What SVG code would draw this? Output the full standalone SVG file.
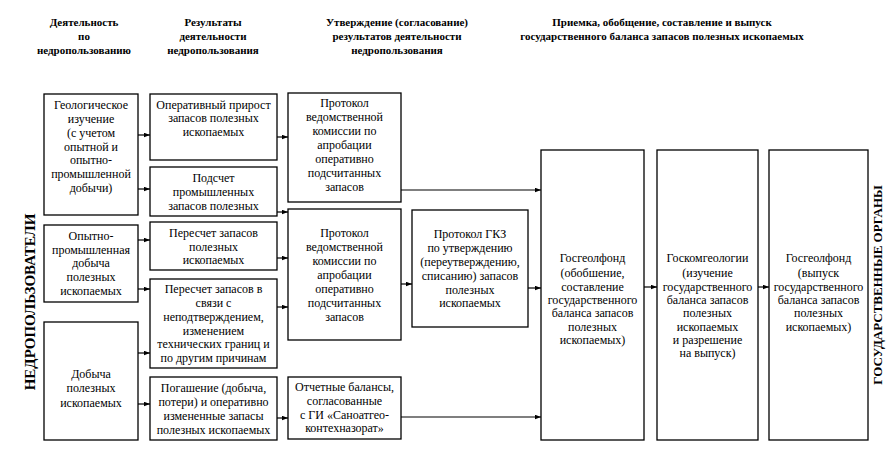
<svg xmlns="http://www.w3.org/2000/svg" width="888" height="449" viewBox="0 0 888 449">
<style>
text{font-family:"Liberation Serif","Times New Roman","DejaVu Serif",serif}
.b{fill:#fff;stroke:#000;stroke-width:1.3}
.t{font-size:12px;fill:#000;text-anchor:middle}
.h{font-size:11px;font-weight:bold;fill:#000;text-anchor:middle}
.v{font-weight:bold;fill:#000;text-anchor:middle}
.c line{stroke:#000;stroke-width:1.2;marker-end:url(#a)}
</style>
<defs>
<marker id="a" viewBox="0 0 8 6" refX="8" refY="3" markerWidth="6" markerHeight="5" markerUnits="userSpaceOnUse" orient="auto"><path d="M0,0L8,3L0,6z" fill="#000"/></marker>
</defs>
<rect width="888" height="449" fill="#fff"/>
<g id="headers">
<text class="h" x="84"><tspan x="84" y="26">Деятельность</tspan><tspan x="84" y="40">по</tspan><tspan x="84" y="54">недропользованию</tspan></text>
<text class="h" x="213"><tspan x="213" y="26">Результаты</tspan><tspan x="213" y="40">деятельности</tspan><tspan x="213" y="54">недропользования</tspan></text>
<text class="h" x="397"><tspan x="397" y="26">Утверждение (согласование)</tspan><tspan x="397" y="40">результатов деятельности</tspan><tspan x="397" y="54">недропользования</tspan></text>
<text class="h" x="662"><tspan x="662" y="26">Приемка, обобщение, составление и выпуск</tspan><tspan x="662" y="40">государственного баланса запасов полезных ископаемых</tspan></text>
</g>
<text class="v" font-size="15" transform="translate(35,302) rotate(-90)">НЕДРОПОЛЬЗОВАТЕЛИ</text>
<text class="v" font-size="13" transform="translate(882,285) rotate(-90)">ГОСУДАРСТВЕННЫЕ ОРГАНЫ</text>
<g id="n1"><rect class="b" x="44" y="94" width="94" height="121"/>
<text class="t"><tspan x="91" y="109">Геологическое</tspan><tspan x="91" y="122.5">изучение</tspan><tspan x="91" y="136.5">(с учетом</tspan><tspan x="91" y="150.5">опытной и</tspan><tspan x="91" y="164">опытно-</tspan><tspan x="91" y="178">промышленной</tspan><tspan x="91" y="191.5">добычи)</tspan></text></g>
<g id="n2"><rect class="b" x="44" y="225" width="94" height="77"/>
<text class="t"><tspan x="91" y="240">Опытно-</tspan><tspan x="91" y="254">промышленная</tspan><tspan x="91" y="267">добыча</tspan><tspan x="91" y="281">полезных</tspan><tspan x="91" y="295">ископаемых</tspan></text></g>
<g id="n3"><rect class="b" x="44" y="322" width="94" height="118"/>
<text class="t"><tspan x="91" y="378">Добыча</tspan><tspan x="91" y="392">полезных</tspan><tspan x="91" y="407">ископаемых</tspan></text></g>
<g id="r1"><rect class="b" x="150" y="94" width="127" height="66"/>
<text class="t"><tspan x="213.5" y="109">Оперативный прирост</tspan><tspan x="213.5" y="122">запасов полезных</tspan><tspan x="213.5" y="136">ископаемых</tspan></text></g>
<g id="r2"><rect class="b" x="150" y="167" width="127" height="49"/>
<text class="t"><tspan x="213.5" y="182">Подсчет</tspan><tspan x="213.5" y="196">промышленных</tspan><tspan x="213.5" y="210">запасов полезных</tspan></text></g>
<g id="r3"><rect class="b" x="150" y="222" width="127" height="48"/>
<text class="t"><tspan x="213.5" y="237">Пересчет запасов</tspan><tspan x="213.5" y="251">полезных</tspan><tspan x="213.5" y="264">ископаемых</tspan></text></g>
<g id="r4"><rect class="b" x="150" y="279" width="127" height="89"/>
<text class="t"><tspan x="213.5" y="293">Пересчет запасов в</tspan><tspan x="213.5" y="307">связи с</tspan><tspan x="213.5" y="321">неподтверждением,</tspan><tspan x="213.5" y="335">изменением</tspan><tspan x="213.5" y="348">технических границ и</tspan><tspan x="213.5" y="362">по другим причинам</tspan></text></g>
<g id="r5"><rect class="b" x="150" y="377" width="127" height="63"/>
<text class="t"><tspan x="213.5" y="392">Погашение (добыча,</tspan><tspan x="213.5" y="406">потери) и оперативно</tspan><tspan x="213.5" y="420">измененные запасы</tspan><tspan x="213.5" y="434">полезных ископаемых</tspan></text></g>
<g id="p1"><rect class="b" x="288" y="93" width="113" height="109"/>
<text class="t"><tspan x="344.5" y="107">Протокол</tspan><tspan x="344.5" y="121">ведомственной</tspan><tspan x="344.5" y="135">комиссии по</tspan><tspan x="344.5" y="149">апробации</tspan><tspan x="344.5" y="163">оперативно</tspan><tspan x="344.5" y="177">подсчитанных</tspan><tspan x="344.5" y="191">запасов</tspan></text></g>
<g id="p2"><rect class="b" x="288" y="209" width="113" height="131"/>
<text class="t"><tspan x="344.5" y="237">Протокол</tspan><tspan x="344.5" y="251">ведомственной</tspan><tspan x="344.5" y="265">комиссии по</tspan><tspan x="344.5" y="279">апробации</tspan><tspan x="344.5" y="293">оперативно</tspan><tspan x="344.5" y="307">подсчитанных</tspan><tspan x="344.5" y="321">запасов</tspan></text></g>
<g id="p3"><rect class="b" x="288" y="377" width="113" height="62"/>
<text class="t"><tspan x="344.5" y="391">Отчетные балансы,</tspan><tspan x="344.5" y="405">согласованные</tspan><tspan x="344.5" y="419">с ГИ «Саноатгео-</tspan><tspan x="344.5" y="432">контехназорат»</tspan></text></g>
<g id="gkz"><rect class="b" x="412" y="210" width="116" height="117"/>
<text class="t"><tspan x="470" y="238">Протокол ГКЗ</tspan><tspan x="470" y="252">по утверждению</tspan><tspan x="470" y="266">(переутверждению,</tspan><tspan x="470" y="280">списанию) запасов</tspan><tspan x="470" y="294">полезных</tspan><tspan x="470" y="307">ископаемых</tspan></text></g>
<g id="g1"><rect class="b" x="541" y="150" width="103" height="290"/>
<text class="t"><tspan x="592.5" y="262">Госгеолфонд</tspan><tspan x="592.5" y="277">(обобшение,</tspan><tspan x="592.5" y="291">составление</tspan><tspan x="592.5" y="304">государственного</tspan><tspan x="592.5" y="317">баланса запасов</tspan><tspan x="592.5" y="331">полезных</tspan><tspan x="592.5" y="344">ископаемых)</tspan></text></g>
<g id="g2"><rect class="b" x="657" y="150" width="101" height="290"/>
<text class="t"><tspan x="707.5" y="262">Госкомгеологии</tspan><tspan x="707.5" y="277">(изучение</tspan><tspan x="707.5" y="291">государственного</tspan><tspan x="707.5" y="304">баланса запасов</tspan><tspan x="707.5" y="317">полезных</tspan><tspan x="707.5" y="331">ископаемых</tspan><tspan x="707.5" y="344">и разрешение</tspan><tspan x="707.5" y="357">на выпуск)</tspan></text></g>
<g id="g3"><rect class="b" x="769" y="150" width="99" height="290"/>
<text class="t"><tspan x="818.5" y="262">Госгеолфонд</tspan><tspan x="818.5" y="277">(выпуск</tspan><tspan x="818.5" y="291">государственного</tspan><tspan x="818.5" y="304">баланса запасов</tspan><tspan x="818.5" y="317">полезных</tspan><tspan x="818.5" y="331">ископаемых)</tspan></text></g>
<g id="connectors" class="c">
<line x1="138" y1="135" x2="150" y2="135"/>
<line x1="138" y1="189" x2="150" y2="189"/>
<line x1="138" y1="240" x2="150" y2="240"/>
<line x1="138" y1="289" x2="150" y2="289"/>
<line x1="138" y1="353" x2="150" y2="353"/>
<line x1="138" y1="404" x2="150" y2="404"/>
<line x1="277" y1="137" x2="288" y2="137"/>
<line x1="277" y1="212" x2="288" y2="212"/>
<line x1="277" y1="258" x2="288" y2="258"/>
<line x1="277" y1="307" x2="288" y2="307"/>
<line x1="277" y1="418" x2="288" y2="418"/>
<line x1="401" y1="190" x2="541" y2="190"/>
<line x1="401" y1="284" x2="412" y2="284"/>
<line x1="528" y1="288" x2="541" y2="288"/>
<line x1="401" y1="417" x2="541" y2="417"/>
<line x1="644" y1="287" x2="657" y2="287"/>
<line x1="758" y1="287" x2="769" y2="287"/>
</g>
</svg>
